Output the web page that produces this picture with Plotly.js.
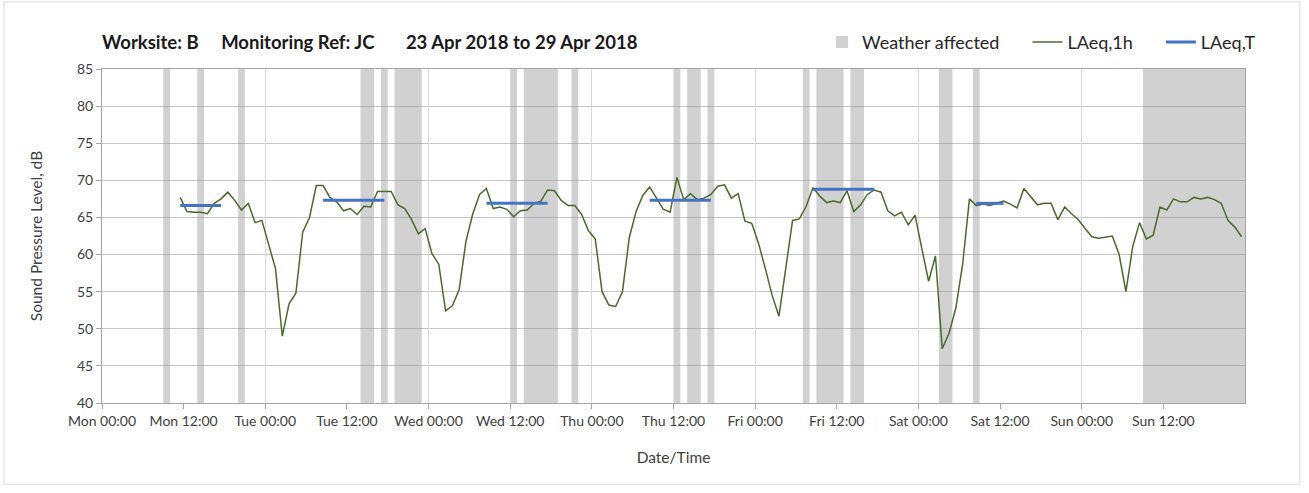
<!DOCTYPE html>
<html>
<head>
<meta charset="utf-8">
<script src="https://cdn.plot.ly/plotly-3.0.1.min.js"></script>
<style>
html,body{margin:0;padding:0;background:#ffffff;}
#chart{width:1309px;height:493px;}
</style>
</head>
<body>
<div id="chart"></div>
<script>
// Hours since Mon 23 Apr 2018 00:00 (hourly LAeq,1h points, plotted at mid-hour)
const hourOffsets = [
  11.5, 12.5, 13.5, 14.5, 15.5, 16.5, 17.5, 18.5, 19.5, 20.5, 21.5, 22.5,
  23.5, 24.5, 25.5, 26.5, 27.5, 28.5, 29.5, 30.5, 31.5, 32.5, 33.5, 34.5,
  35.5, 36.5, 37.5, 38.5, 39.5, 40.5, 41.5, 42.5, 43.5, 44.5, 45.5, 46.5,
  47.5, 48.5, 49.5, 50.5, 51.5, 52.5, 53.5, 54.5, 55.5, 56.5, 57.5, 58.5,
  59.5, 60.5, 61.5, 62.5, 63.5, 64.5, 65.5, 66.5, 67.5, 68.5, 69.5, 70.5,
  71.5, 72.5, 73.5, 74.5, 75.5, 76.5, 77.5, 78.5, 79.5, 80.5, 81.5, 82.5,
  83.5, 84.5, 85.5, 86.5, 87.5, 88.5, 89.5, 90.5, 91.5, 92.5, 93.5, 94.5,
  95.5, 96.5, 97.5, 98.5, 99.5, 100.5, 101.5, 102.5, 103.5, 104.5, 105.5, 106.5,
  107.5, 108.5, 109.5, 110.5, 111.5, 112.5, 113.5, 114.5, 115.5, 116.5, 117.5, 118.5,
  119.5, 120.5, 121.5, 122.5, 123.5, 124.5, 125.5, 126.5, 127.5, 128.5, 129.5, 130.5,
  131.5, 132.5, 133.5, 134.5, 135.5, 136.5, 137.5, 138.5, 139.5, 140.5, 141.5, 142.5,
  143.5, 144.5, 145.5, 146.5, 147.5, 148.5, 149.5, 150.5, 151.5, 152.5, 153.5, 154.5,
  155.5, 156.5, 157.5, 158.5, 159.5, 160.5, 161.5, 162.5, 163.5, 164.5, 165.5, 166.5,
  167.5
];

// LAeq,1h values (dB)
const laeq1h = [
  67.7, 65.8, 65.7, 65.7, 65.5, 66.9, 67.5, 68.4, 67.3, 66.0, 66.9, 64.3,
  64.6, 61.4, 58.1, 49.0, 53.4, 54.8, 63.0, 65.0, 69.3, 69.3, 67.7, 67.1,
  65.9, 66.2, 65.4, 66.5, 66.4, 68.5, 68.5, 68.5, 66.7, 66.2, 64.7, 62.8,
  63.5, 60.1, 58.7, 52.4, 53.1, 55.3, 61.8, 65.5, 68.1, 68.9, 66.2, 66.4,
  66.1, 65.1, 65.9, 66.0, 66.9, 67.2, 68.7, 68.6, 67.3, 66.6, 66.6, 65.4,
  63.2, 62.1, 55.0, 53.2, 53.0, 55.0, 62.3, 65.8, 68.0, 69.1, 67.6, 66.1,
  65.7, 70.4, 67.4, 68.2, 67.4, 67.6, 68.1, 69.2, 69.4, 67.6, 68.2, 64.5,
  64.2, 61.5, 58.1, 54.5, 51.7, 58.0, 64.6, 64.8, 66.5, 69.0, 67.9, 67.0,
  67.2, 67.0, 68.6, 65.8, 66.7, 68.1, 68.7, 68.4, 65.9, 65.2, 65.7, 64.0,
  65.3, 60.8, 56.4, 59.8, 47.3, 49.4, 52.8, 58.7, 67.5, 66.6, 66.8, 66.6,
  66.9, 67.2, 66.8, 66.3, 68.9, 67.8, 66.7, 66.9, 66.9, 64.7, 66.4, 65.5,
  64.7, 63.5, 62.4, 62.2, 62.4, 62.5, 60.0, 55.0, 61.1, 64.3, 62.1, 62.6,
  66.4, 66.0, 67.5, 67.1, 67.1, 67.7, 67.5, 67.7, 67.4, 66.9, 64.6, 63.7,
  62.4
];

// LAeq,T periods (hours since Mon 00:00) and levels (dB)
const laeqTStart = [11.5, 32.5, 56.5, 80.5, 104.5, 128.5];
const laeqTEnd   = [17.5, 41.5, 65.5, 89.5, 113.5, 132.5];
const laeqTValue = [66.6, 67.3, 66.9, 67.3, 68.8, 66.9];

// Weather affected periods (hours since Mon 00:00)
const weatherStart = [9, 14, 20, 38, 41, 43, 60, 62, 69, 84, 86, 89, 103, 105, 110, 123, 128, 153];
const weatherEnd   = [10, 15, 21, 40, 42, 47, 61, 67, 70, 85, 88, 90, 104, 109, 112, 125, 129, 168];

// Axis ticks
const tickHours  = [0, 12, 24, 36, 48, 60, 72, 84, 96, 108, 120, 132, 144, 156];
const tickLabels = ["Mon 00:00", "Mon 12:00", "Tue 00:00", "Tue 12:00", "Wed 00:00", "Wed 12:00",
                    "Thu 00:00", "Thu 12:00", "Fri 00:00", "Fri 12:00", "Sat 00:00", "Sat 12:00",
                    "Sun 00:00", "Sun 12:00"];
const dayHours   = [0, 24, 48, 72, 96, 120, 144, 168];
const yMin = 40, yMax = 85;

// Build traces from data
const wx = [], ww = [], wy = [], wb = [];
for (let i = 0; i < weatherStart.length; i++) {
  wx.push((weatherStart[i] + weatherEnd[i]) / 2);
  ww.push(weatherEnd[i] - weatherStart[i]);
  wy.push(yMax - yMin);
  wb.push(yMin);
}
const tx = [], ty = [];
for (let i = 0; i < laeqTStart.length; i++) {
  tx.push(laeqTStart[i], laeqTEnd[i], null);
  ty.push(laeqTValue[i], laeqTValue[i], null);
}

const FONT = "Lato, 'Open Sans', sans-serif";
const NB = '\u00a0';

const traces = [
  {
    type: 'bar', name: 'Weather affected' + NB.repeat(5),
    x: wx, y: wy, base: wb, width: ww,
    marker: {color: 'rgba(140,140,140,0.40)', line: {width: 0}},
    hoverinfo: 'skip'
  },
  {
    type: 'scatter', mode: 'lines', name: 'LAeq,1h' + NB.repeat(5),
    x: hourOffsets, y: laeq1h,
    line: {color: '#4a6a2c', width: 1.5}
  },
  {
    type: 'scatter', mode: 'lines', name: 'LAeq,T',
    x: tx, y: ty, xaxis: 'x2',
    line: {color: '#4472c4', width: 3},
    connectgaps: false
  }
];

const layout = {
  width: 1309, height: 493,
  margin: {l: 102, r: 64, t: 69, b: 90, pad: 0},
  paper_bgcolor: '#ffffff', plot_bgcolor: '#ffffff',
  font: {family: FONT, color: '#404040'},
  barmode: 'overlay',
  showlegend: true,
  title: {
    text: '<b>Worksite: B' + NB.repeat(5) + 'Monitoring Ref: JC' + NB.repeat(7) + '23 Apr 2018 to 29 Apr 2018</b>',
    font: {family: FONT, size: 18.5, color: '#1a1a1a'},
    xref: 'paper', x: 0, xanchor: 'left',
    yref: 'container', y: 1 - 43/493, yanchor: 'middle'
  },
  legend: {
    orientation: 'h', x: 0.63, xanchor: 'left', y: 1.08, yanchor: 'middle',
    font: {family: FONT, size: 18, color: '#262626'},
    bgcolor: 'rgba(0,0,0,0)', itemwidth: 30, traceorder: 'normal'
  },
  xaxis: {
    range: [0, 168], tickmode: 'array', tickvals: tickHours, ticktext: tickLabels,
    ticks: 'outside', ticklen: 5, tickcolor: '#a6a6a6', tickwidth: 1,
    showline: true, linecolor: '#a6a6a6', linewidth: 1, mirror: true,
    showgrid: false, zeroline: false,
    tickfont: {family: FONT, size: 14, color: '#404040'},
    title: {text: 'Date/Time', font: {family: FONT, size: 15.5, color: '#404040'}, standoff: 24}
  },
  xaxis2: {
    overlaying: 'x', range: [0, 168], tickmode: 'array', tickvals: dayHours,
    showgrid: true, gridcolor: '#d9d9d9', gridwidth: 1,
    showticklabels: false, ticks: '', showline: false, zeroline: false
  },
  yaxis: {
    range: [yMin, yMax], tick0: 40, dtick: 5,
    ticks: 'outside', ticklen: 5, tickcolor: '#a6a6a6',
    showline: true, linecolor: '#a6a6a6', linewidth: 1, mirror: true,
    showgrid: true, gridcolor: '#c6c6c6', gridwidth: 1, zeroline: false,
    tickfont: {family: FONT, size: 14, color: '#404040'},
    title: {text: 'Sound Pressure Level, dB', font: {family: FONT, size: 15.5, color: '#404040'}, standoff: 30}
  },
  shapes: [{
    type: 'rect', xref: 'paper', yref: 'paper',
    x0: -0.0857, x1: 1.048, y0: -0.243, y1: 1.201,
    line: {color: '#d9d9d9', width: 1}, fillcolor: 'rgba(0,0,0,0)', layer: 'below'
  }]
};

Plotly.newPlot('chart', traces, layout, {displayModeBar: false, staticPlot: true});
</script>
</body>
</html>
